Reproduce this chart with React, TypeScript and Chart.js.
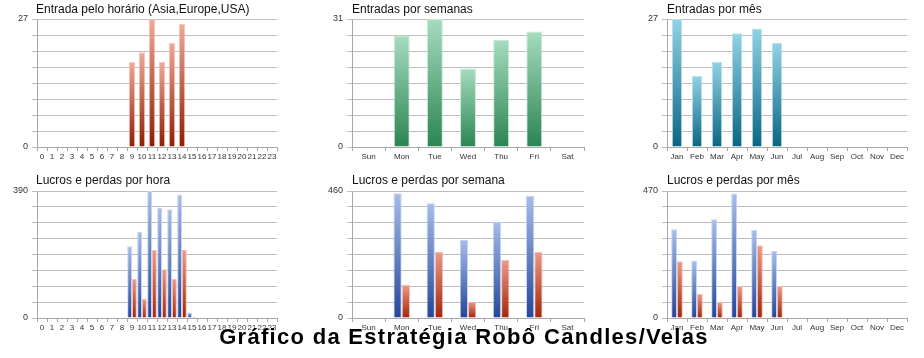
import React, { useEffect, useRef } from "react";
import { Chart, registerables } from "chart.js";

Chart.register(...registerables);

const hourLabels = ["0","1","2","3","4","5","6","7","8","9","10","11","12","13","14","15","16","17","18","19","20","21","22","23"];
const dayLabels = ["Sun","Mon","Tue","Wed","Thu","Fri","Sat"];
const monthLabels = ["Jan","Feb","Mar","Apr","May","Jun","Jul","Aug","Sep","Oct","Nov","Dec"];

const entradasHora = [0,0,0,0,0,0,0,0,0,18,20,27,18,22,26,0,0,0,0,0,0,0,0,0];
const entradasSemana = [0,27,31,19,26,28,0];
const entradasMes = [27,15,18,24,25,22,0,0,0,0,0,0];

const lucrosHora = [0,0,0,0,0,0,0,0,0,220,264,390,339,334,379,17,0,0,0,0,0,0,0,0];
const perdasHora = [0,0,0,0,0,0,0,0,0,120,59,209,150,120,209,3,0,0,0,0,0,0,0,0];
const lucrosSemana = [0,452,416,283,349,443,0];
const perdasSemana = [0,120,240,59,210,240,0];
const lucrosMes = [328,213,365,461,326,248,0,0,0,0,0,0];
const perdasMes = [210,89,59,118,269,118,0,0,0,0,0,0];

const yMax = [27, 31, 27, 390, 460, 470];
const titles = [
  "Entrada pelo horário (Asia,Europe,USA)",
  "Entradas por semanas",
  "Entradas por mês",
  "Lucros e perdas por hora",
  "Lucros e perdas por semana",
  "Lucros e perdas por mês",
];
const mainTitle = "Gráfico da Estratégia Robô Candles/Velas";

type Grad = { top: string; bottom: string; border: string };
const RED: Grad = { top: "#eeaa98", bottom: "#8e1e04", border: "#f6c6b8" };
const GREEN: Grad = { top: "#a6dcbf", bottom: "#2b8452", border: "#c2ead4" };
const TEAL: Grad = { top: "#92d2e6", bottom: "#0b6580", border: "#b4e2f0" };
const BLUE: Grad = { top: "#a6bde9", bottom: "#24469a", border: "#c4d4f2" };
const RED2: Grad = { top: "#ec9a88", bottom: "#a2260c", border: "#f4c0b2" };

function gradFill(g: Grad) {
  return (ctx: any) => {
    const chart = ctx.chart;
    const scales = chart.scales;
    const v = ctx.raw;
    if (!chart.chartArea || !scales || !scales.y || typeof v !== "number") return g.bottom;
    const top = scales.y.getPixelForValue(v);
    const bottom = scales.y.getPixelForValue(0);
    if (bottom - top < 2) return g.bottom;
    const lg = chart.ctx.createLinearGradient(0, top, 0, bottom);
    lg.addColorStop(0, g.top);
    lg.addColorStop(1, g.bottom);
    return lg;
  };
}

type Panel = {
  labels: string[];
  series: { data: number[]; g: Grad }[];
  max: number;
  cx: number; cy: number; w: number; h: number;
  x0: number; y0: number; x1: number; y1: number;
  barPct: number; catPct: number;
};

const XAXIS_H = 16;

function makeConfig(p: Panel): any {
  return {
    type: "bar",
    data: {
      labels: p.labels,
      datasets: p.series.map((s) => ({
        data: s.data,
        backgroundColor: gradFill(s.g),
        borderColor: s.g.border,
        borderWidth: (ctx: any) => (ctx.raw > 0 ? 1 : 0),
        borderSkipped: "bottom",
        barPercentage: p.barPct,
        categoryPercentage: p.catPct,
      })),
    },
    options: {
      responsive: false,
      animation: false,
      layout: {
        padding: {
          left: 0,
          top: p.y0 - p.cy,
          right: p.cx + p.w - p.x1,
          bottom: p.cy + p.h - p.y1 - XAXIS_H,
        },
      },
      plugins: { legend: { display: false }, tooltip: { enabled: false }, title: { display: false } },
      scales: {
        x: {
          grid: { offset: true, drawOnChartArea: false, tickLength: 4, color: "#a8a8a8" },
          border: { display: true, color: "#a8a8a8" },
          ticks: {
            autoSkip: false, maxRotation: 0, minRotation: 0, padding: 1,
            color: "#333", font: { family: "Liberation Sans", size: 8 },
          },
          afterFit: (s: any) => { s.height = XAXIS_H; },
        },
        y: {
          min: 0,
          max: p.max,
          grid: { color: "#bdbdbd", tickLength: 5 },
          border: { display: true, color: "#a8a8a8" },
          afterBuildTicks: (s: any) => {
            const t = [];
            for (let i = 0; i <= 8; i++) t.push({ value: (p.max * i) / 8 });
            s.ticks = t;
          },
          ticks: {
            padding: 4,
            color: "#333",
            font: { family: "Liberation Sans", size: 9 },
            callback: (v: any) => (v === 0 || v === p.max ? String(v) : ""),
          },
          afterFit: (s: any) => { s.width = p.x0 - p.cx; },
        },
      },
    },
  };
}

const panels: Panel[] = [
  { labels: hourLabels, series: [{ data: entradasHora, g: RED }], max: yMax[0], cx: 0, cy: 0, w: 305, h: 172, x0: 37, y0: 19, x1: 277, y1: 147, barPct: 0.65, catPct: 1 },
  { labels: dayLabels, series: [{ data: entradasSemana, g: GREEN }], max: yMax[1], cx: 310, cy: 0, w: 300, h: 172, x0: 352, y0: 19, x1: 584, y1: 147, barPct: 0.48, catPct: 1 },
  { labels: monthLabels, series: [{ data: entradasMes, g: TEAL }], max: yMax[2], cx: 610, cy: 0, w: 314, h: 172, x0: 667, y0: 19, x1: 907, y1: 147, barPct: 0.52, catPct: 1 },
  { labels: hourLabels, series: [{ data: lucrosHora, g: BLUE }, { data: perdasHora, g: RED2 }], max: yMax[3], cx: 0, cy: 172, w: 305, h: 186, x0: 37, y0: 191, x1: 277, y1: 318, barPct: 1, catPct: 0.96 },
  { labels: dayLabels, series: [{ data: lucrosSemana, g: BLUE }, { data: perdasSemana, g: RED2 }], max: yMax[4], cx: 310, cy: 172, w: 300, h: 186, x0: 352, y0: 191, x1: 584, y1: 318, barPct: 1, catPct: 0.5 },
  { labels: monthLabels, series: [{ data: lucrosMes, g: BLUE }, { data: perdasMes, g: RED2 }], max: yMax[5], cx: 610, cy: 172, w: 314, h: 186, x0: 667, y0: 191, x1: 907, y1: 318, barPct: 1, catPct: 0.58 },
];

const titlePos = [
  { x: 36, y: 3 }, { x: 352, y: 3 }, { x: 667, y: 3 },
  { x: 36, y: 174 }, { x: 352, y: 174 }, { x: 667, y: 174 },
];

function PanelChart({ p }: { p: Panel }) {
  const ref = useRef<HTMLCanvasElement | null>(null);
  useEffect(() => {
    if (!ref.current) return;
    const chart = new Chart(ref.current, makeConfig(p));
    return () => chart.destroy();
  }, [p]);
  return (
    <canvas
      ref={ref}
      width={p.w}
      height={p.h}
      style={{ position: "absolute", left: p.cx, top: p.cy, width: p.w, height: p.h }}
    />
  );
}

export default function App() {
  return (
    <div style={{ position: "absolute", left: 0, top: 0, width: 924, height: 358, background: "#fff", overflow: "hidden" }}>
      {panels.map((p, i) => (
        <PanelChart key={i} p={p} />
      ))}
      {titles.map((t, i) => (
        <div
          key={"t" + i}
          style={{
            position: "absolute", left: titlePos[i].x, top: titlePos[i].y,
            fontFamily: "Liberation Sans", fontSize: 12, lineHeight: 1, color: "#111", whiteSpace: "nowrap",
          }}
        >
          {t}
        </div>
      ))}
      <div
        style={{
          position: "absolute", left: 0, width: 928, top: 326, textAlign: "center",
          fontFamily: "Liberation Sans", fontWeight: "bold", fontSize: 22, lineHeight: 1, color: "#000",
          whiteSpace: "nowrap", textShadow: "0 0 2px #fff, 0 0 2px #fff",
          letterSpacing: 1.3,
        }}
      >
        {mainTitle}
      </div>
    </div>
  );
}
